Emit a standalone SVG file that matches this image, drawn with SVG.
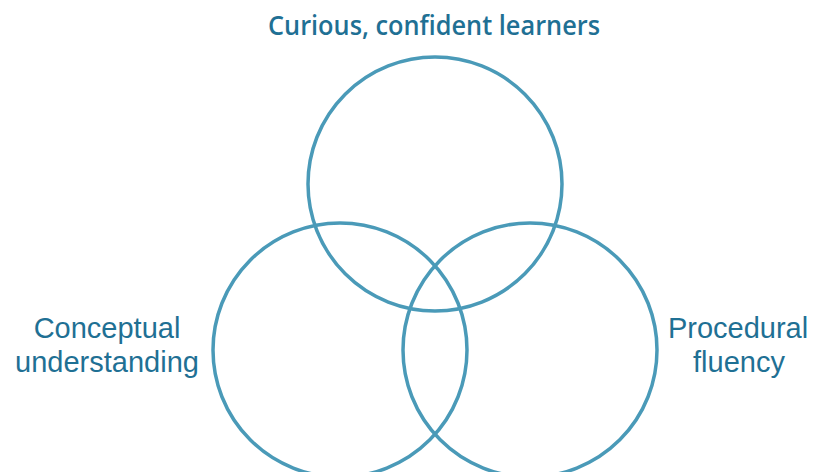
<svg xmlns="http://www.w3.org/2000/svg" width="813" height="472" viewBox="0 0 813 472">
  <style>
    .ring { fill: none; stroke: #4a9ab8; stroke-width: 3.5; }
    .label { font-family: "Liberation Sans", Arial, sans-serif; font-size: 29px; fill: #1f7094; text-anchor: middle; }
    .title { font-family: "Open Sans", "Liberation Sans", sans-serif; font-size: 27px; font-weight: 600; fill: #1f7094; text-anchor: middle; }
  </style>
  <rect width="813" height="472" fill="#ffffff"/>
  <g id="learners">
    <circle class="ring" cx="435" cy="184" r="127"/>
    <text class="title" x="434" y="35" textLength="332" lengthAdjust="spacingAndGlyphs">Curious, confident learners</text>
  </g>
  <g id="conceptual">
    <circle class="ring" cx="340" cy="350" r="127"/>
    <text class="label" x="107" y="338">Conceptual</text>
    <text class="label" x="107" y="372">understanding</text>
  </g>
  <g id="procedural">
    <circle class="ring" cx="530" cy="350" r="127"/>
    <text class="label" x="738" y="338">Procedural</text>
    <text class="label" x="739" y="372">fluency</text>
  </g>
  <g id="connectors"/>
</svg>
